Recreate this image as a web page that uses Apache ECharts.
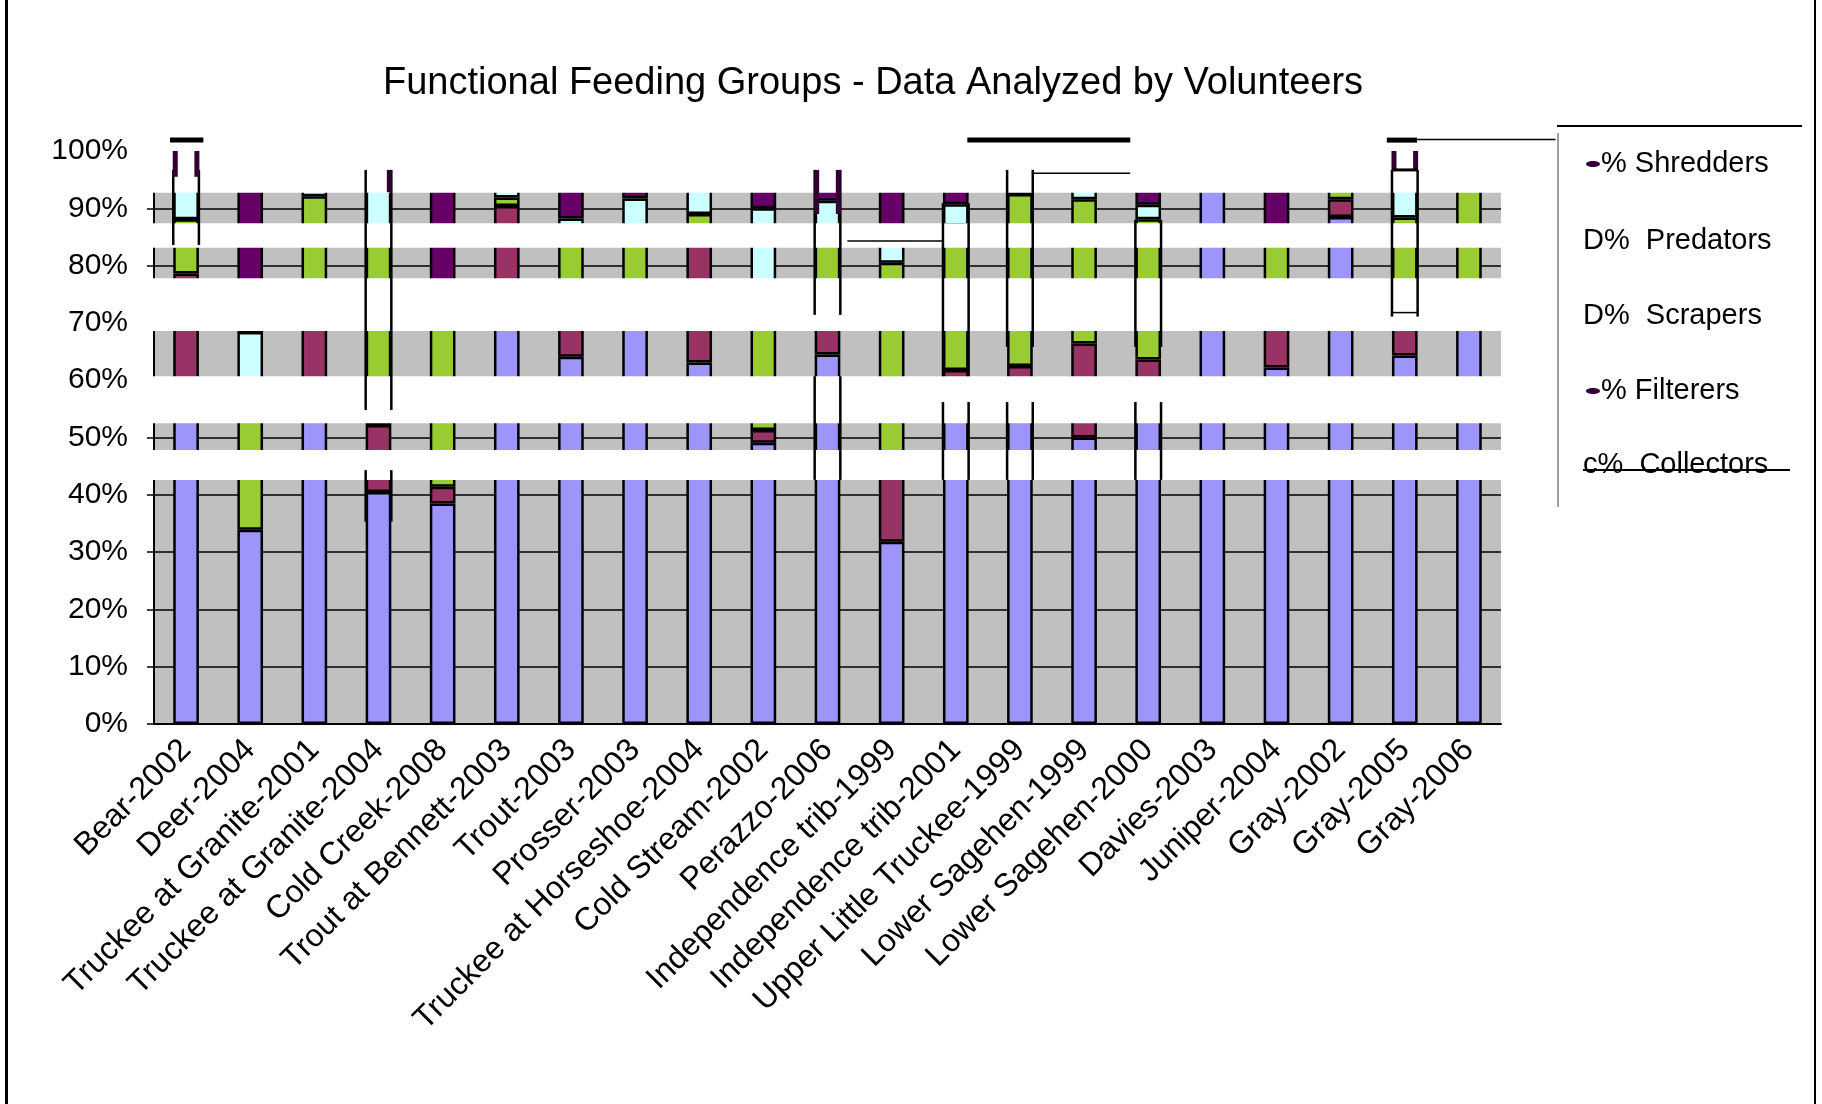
<!DOCTYPE html>
<html>
<head>
<meta charset="utf-8">
<script src="https://cdn.jsdelivr.net/npm/echarts@6/dist/echarts.min.js"></script>
<style>
html, body { margin: 0; padding: 0; background: #fff; }
#main { width: 1822px; height: 1104px; }
</style>
</head>
<body>
<div id="main"></div>
<script>
// sites, left to right
const sites = [
  'Bear-2002', 'Deer-2004', 'Truckee at Granite-2001', 'Truckee at Granite-2004',
  'Cold Creek-2008', 'Trout at Bennett-2003', 'Trout-2003', 'Prosser-2003',
  'Truckee at Horseshoe-2004', 'Cold Stream-2002', 'Perazzo-2006', 'Independence trib-1999',
  'Independence trib-2001', 'Upper Little Truckee-1999', 'Lower Sagehen-1999', 'Lower Sagehen-2000',
  'Davies-2003', 'Juniper-2004', 'Gray-2002', 'Gray-2005', 'Gray-2006'
]

// percent of sample, stacked bottom to top
const collectors = [56, 33.9, 55, 40.5, 38.5, 73, 64.1, 74, 63.1, 49.1, 64.5, 31.8, 58, 58, 50, 57, 100, 62.2, 88.5, 64.3, 73]
const filterers  = [22.6, 0, 18, 11.7, 2.9, 17.4, 8.9, 0, 21.9, 2.2, 7.5, 13.2, 3.8, 4.5, 16.4, 6.6, 0, 10.8, 3.1, 7.7, 0]
const scrapers   = [9.5, 23.1, 19.1, 32.8, 30.6, 1.5, 13, 11, 4, 22.7, 14, 35.5, 25.2, 30, 25.2, 24.5, 0, 13, 8.4, 16.4, 27]
const predators  = [8, 11.4, 7.9, 10, 0, 8.1, 2.2, 6.7, 11, 16, 5.3, 5.5, 3.7, 7.5, 8.4, 2.5, 0, 0, 0, 8.3, 0]
const shredders  = [3.9, 31.6, 0, 5, 28, 0, 11.8, 8.3, 0, 10, 8.7, 14, 9.3, 0, 0, 9.4, 0, 14, 0, 3.3, 0]

const yTicks = [0, 10, 20, 30, 40, 50, 60, 70, 80, 90, 100]

// the picture is a damaged export: white strips hide the plot between these percents
const whiteBands = [[42.6, 47.8], [52.5, 60.7], [68.6, 77.8], [83.1, 87.4], [92.7, 104]]
// bar outlines left over inside the strips: [category, top %, bottom %]
const outlines = [
  [0, 96.7, 83.6], [3, 96.7, 54.8], [3, 44.3, 35.3], [10, 96.7, 71.4], [10, 60.7, 42.6],
  [12, 90.9, 60.7], [12, 56.2, 42.6], [13, 96.7, 65.8], [13, 56.2, 42.6],
  [15, 88, 65.8], [15, 56.2, 42.6], [19, 96.7, 71.1]
]
// stray horizontal strokes: [from category, to category, %, width]
const strokes = [
  [-0.25, 0.27, 101.9, 5], [18.72, 19.19, 101.9, 5], [12.18, 14.72, 101.9, 5],
  [19.19, 21.35, 102, 1.5], [10.31, 11.8, 84.3, 1.5], [13.2, 14.72, 96.1, 1.5],
  [18.8, 19.2, 71.8, 1.5], [18.8, 19.2, 96.7, 3], [-0.2, 0.2, 88.1, 2.5]
]
// dark stubs at bar edges: [category, top %, bottom %, which edge]
const stubs = [[0, 100, 95.5, 'both'], [3, 96.7, 92.8, 'right'], [10, 96.7, 89, 'both'], [19, 100, 96.7, 'both']]

const FONT = 'Arial, "Liberation Sans", sans-serif'
const chart = echarts.init(document.getElementById('main'))

const groups = [
  ['% Collectors', collectors, '#9D95FA'],
  ['% Filterers', filterers, '#993366'],
  ['% Scrapers', scrapers, '#99CC33'],
  ['% Predators', predators, '#CCFFFF'],
  ['% Shredders', shredders, '#660066']
]

chart.setOption({
  animation: false,
  title: {
    text: 'Functional Feeding Groups - Data Analyzed by Volunteers',
    left: 383,
    top: 65,
    padding: 0,
    textStyle: { fontFamily: FONT, fontSize: 38, fontWeight: 'normal', color: '#000' }
  },
  grid: {
    left: 154, right: 321, top: 151, bottom: 380,
    show: true, backgroundColor: '#C0C0C0', borderWidth: 0
  },
  xAxis: {
    type: 'category',
    data: sites,
    axisLine: { lineStyle: { color: '#000', width: 2 } },
    axisTick: { length: 9, lineStyle: { color: '#000', width: 1.5 } },
    axisLabel: { interval: 0, rotate: 45, margin: 21, fontSize: 32, fontFamily: FONT, color: '#000' }
  },
  yAxis: {
    type: 'value',
    min: yTicks[0],
    max: yTicks[yTicks.length - 1],
    interval: yTicks[1] - yTicks[0],
    axisLine: { show: true, lineStyle: { color: '#000', width: 2 } },
    axisTick: { show: true, length: 7, lineStyle: { color: '#000', width: 1.5 } },
    axisLabel: { formatter: '{value}%', margin: 26, fontSize: 30, fontFamily: FONT, color: '#000' },
    splitLine: { lineStyle: { color: '#000', width: 1.5 } }
  },
  series: groups.map(([name, values, color]) => ({
    name,
    type: 'bar',
    stack: 'all',
    barWidth: '40%',
    data: values.map(v => (v === 0 ? '-' : v)),
    itemStyle: { color, borderColor: '#000', borderWidth: 2.5 }
  }))
})

// helpers mapping category index / percent to pixels
const a = chart.convertToPixel({ gridIndex: 0 }, [0, 0])
const b = chart.convertToPixel({ gridIndex: 0 }, [1, 100])
const step = b[0] - a[0]
const px = c => a[0] + c * step
const py = v => a[1] + (b[1] - a[1]) * v / 100
const half = step * 0.2
const plotLeft = px(-0.5)
const plotRight = px(20.5)

const g = []
whiteBands.forEach(([lo, hi]) => {
  g.push({
    type: 'rect', z: 50, silent: true,
    shape: { x: plotLeft - 12, y: py(hi), width: plotRight - plotLeft + 15, height: py(lo) - py(hi) },
    style: { fill: '#fff' }
  })
})
function vline(x, y1, y2, color, w) {
  g.push({ type: 'line', z: 60, silent: true, shape: { x1: x, y1, x2: x, y2 }, style: { stroke: color, lineWidth: w } })
}
outlines.forEach(([c, top, bot]) => {
  vline(px(c) - half, py(top), py(bot), '#000', 2.5)
  vline(px(c) + half, py(top), py(bot), '#000', 2.5)
})
stubs.forEach(([c, top, bot, edge]) => {
  if (edge !== 'right') vline(px(c) - half + 2, py(top), py(bot), '#330033', 5)
  if (edge !== 'left') vline(px(c) + half - 2, py(top), py(bot), '#330033', 5)
})
strokes.forEach(([c1, c2, v, w]) => {
  g.push({ type: 'line', z: 60, silent: true,
    shape: { x1: px(c1), y1: py(v), x2: px(c2), y2: py(v) },
    style: { stroke: '#000', lineWidth: w } })
})

// legend box, as it was printed
const legendRows = [
  ['% Shredders', true, false],
  ['D%  Predators', false, false],
  ['D%  Scrapers', false, false],
  ['% Filterers', true, false],
  ['c%  Collectors', false, true]
]
const rowY = [164, 241, 316, 391, 465]
legendRows.forEach(([label, marker, strike], i) => {
  const y = rowY[i]
  if (marker) {
    g.push({ type: 'ellipse', z: 60, silent: true, shape: { cx: 1593, cy: y, rx: 7, ry: 3 }, style: { fill: '#330033' } })
  }
  g.push({
    type: 'text', z: 60, silent: true,
    style: { text: label, x: marker ? 1601 : 1583, y, verticalAlign: 'middle', fontSize: 29, fontFamily: FONT, fill: '#000' }
  })
  if (strike) {
    g.push({ type: 'line', z: 61, silent: true, shape: { x1: 1583, y1: y + 5, x2: 1790, y2: y + 5 }, style: { stroke: '#000', lineWidth: 2 } })
  }
})
g.push({ type: 'line', z: 60, silent: true, shape: { x1: 1557, y1: 126, x2: 1802, y2: 126 }, style: { stroke: '#000', lineWidth: 2 } })
g.push({ type: 'line', z: 60, silent: true, shape: { x1: 1558, y1: 133, x2: 1558, y2: 507 }, style: { stroke: '#808080', lineWidth: 1.5 } })
// page frame
g.push({ type: 'line', z: 60, silent: true, shape: { x1: 6.5, y1: 0, x2: 6.5, y2: 1104 }, style: { stroke: '#000', lineWidth: 3 } })
g.push({ type: 'line', z: 60, silent: true, shape: { x1: 1815, y1: 0, x2: 1815, y2: 1104 }, style: { stroke: '#000', lineWidth: 2 } })

chart.setOption({ graphic: g })
</script>
</body>
</html>
